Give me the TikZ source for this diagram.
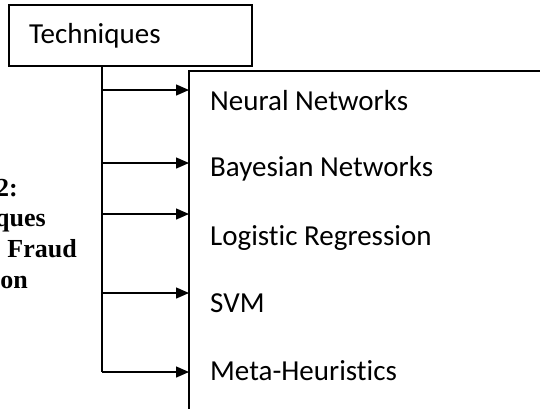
\documentclass[tikz,border=0pt]{standalone}
\usepackage{fontspec}
\setmainfont{Carlito}[Ligatures = NoCommon]
\newfontfamily\capfont{Liberation Serif}
\usetikzlibrary{arrows.meta}

\begin{document}
\begin{tikzpicture}[x = 1pt, y = -1pt,
        box/.style = {draw = black, line width = 1.4pt, inner sep = 0pt, outer sep = 0pt},
        branch/.style = {-{Triangle[length = 13pt, width = 11pt]}, line width = 1.4pt, black},
        item/.style = {anchor = base west, inner sep = 0pt, font = \fontsize{29}{34}\selectfont},
        capline/.style = {anchor = base east, inner sep = 0pt, font = \capfont\bfseries\fontsize{26}{30}\selectfont}]
            \useasboundingbox (0,0) rectangle (540,408);
            \clip (0,0) rectangle (540,408);

            % caption, cut at the left border
            \node[capline] (cap1) at (18,196) {2:};
            \node[capline] (cap2) at (46,226) {ques};
            \node[capline] (cap3) at (77,257) {Fraud};
            \node[capline] (cap4) at (28,288) {ion};

            % root box and the list box
            \node[box, anchor = north west, minimum width = 243pt, minimum height = 61pt,
                  text width = 203pt, inner xsep = 20pt, align = left,
                  font = \fontsize{29}{34}\selectfont] (tech) at (9,5) {Techniques};
            \node[box, anchor = north west, minimum width = 360pt, minimum height = 345pt] (list) at (189,71) {};

            % branch points on the trunk
            \foreach \yy [count = \k] in {90, 163, 214, 293, 372}
                {
                    \coordinate (b\k) at (102,\yy);
                    \draw[branch] (b\k) -- (b\k -| list.west);
                }
            \draw[line width = 1.4pt] (b1 |- tech.south) -- (b5);

            % list entries
            \foreach \txt/\yy [count = \k] in {Neural Networks/110, Bayesian Networks/176, Logistic Regression/245, SVM/312, Meta-Heuristics/380}
                {
                    \node[item] (entry\k) at (210,\yy) {\txt};
                }
        \end{tikzpicture}
\end{document}
